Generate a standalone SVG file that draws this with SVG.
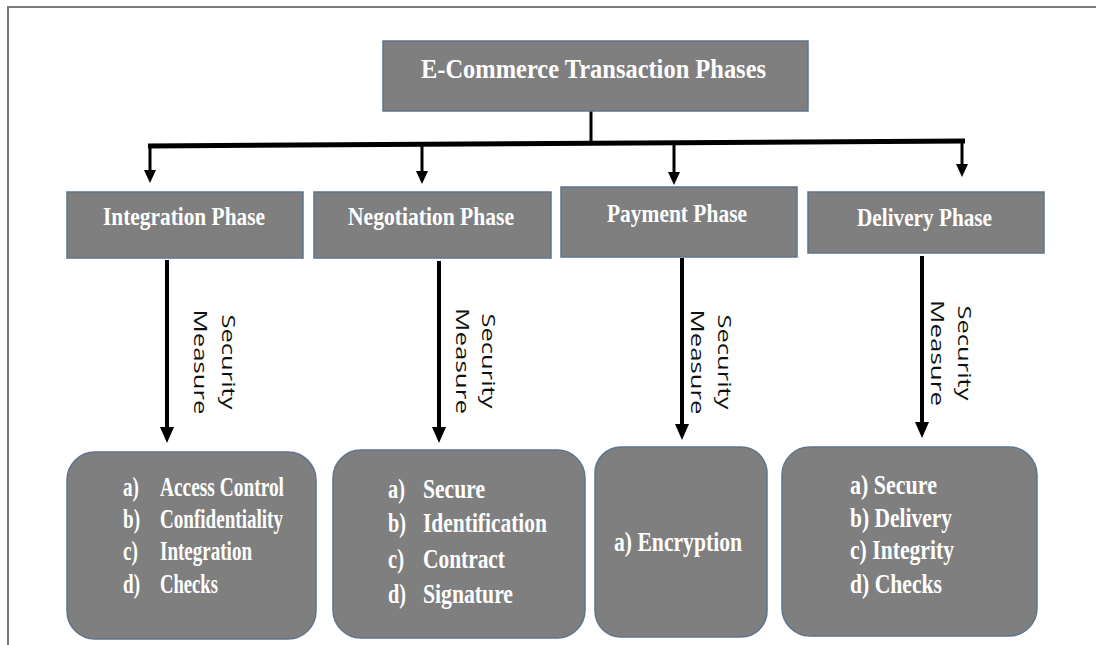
<svg xmlns="http://www.w3.org/2000/svg" width="1096" height="645" viewBox="0 0 1096 645">
  <style>
    .box { fill: #7f7f7f; stroke: #60748a; stroke-width: 1.5; }
    .lbl { font-family: "Liberation Serif", "Times New Roman", serif; font-weight: bold; font-size: 26px; fill: #ffffff; }
    .title { font-size: 27px; }
    .item { font-size: 27px; }
    .sm { font-family: "Open Sans", "DejaVu Sans", sans-serif; font-size: 19px; fill: #111111; text-anchor: middle; }
    .wire { fill: none; stroke: #000000; }
    .frame { fill: none; stroke: #7a7a7a; stroke-width: 2; }
  </style>
  <defs>
    <marker id="headBig" markerUnits="userSpaceOnUse" markerWidth="16" markerHeight="14" refX="4" refY="7" orient="auto">
      <path d="M0,0 L16,7 L0,14 z" fill="#000000"/>
    </marker>
    <marker id="headSmall" markerUnits="userSpaceOnUse" markerWidth="13" markerHeight="12" refX="3" refY="6" orient="auto">
      <path d="M0,0 L13,6 L0,12 z" fill="#000000"/>
    </marker>
  </defs>

  <rect width="1096" height="645" fill="#ffffff"/>
  <path class="frame" d="M8,645 V7 H1096"/>

  <!-- connectors -->
  <g id="connectors">
    <line class="wire" x1="591" y1="111" x2="591" y2="144" stroke-width="3"/>
    <line class="wire" x1="148" y1="146" x2="965" y2="141" stroke-width="5"/>
    <line class="wire" x1="150" y1="146" x2="150" y2="173" stroke-width="3" marker-end="url(#headSmall)"/>
    <line class="wire" x1="422" y1="144" x2="422" y2="174" stroke-width="3" marker-end="url(#headSmall)"/>
    <line class="wire" x1="674" y1="143" x2="674" y2="175" stroke-width="3" marker-end="url(#headSmall)"/>
    <line class="wire" x1="962" y1="141" x2="962" y2="167" stroke-width="3" marker-end="url(#headSmall)"/>

    <line class="wire" x1="167" y1="260" x2="167" y2="431" stroke-width="4" marker-end="url(#headBig)"/>
    <line class="wire" x1="439" y1="261" x2="439" y2="431" stroke-width="4" marker-end="url(#headBig)"/>
    <line class="wire" x1="682" y1="258" x2="682" y2="428" stroke-width="4" marker-end="url(#headBig)"/>
    <line class="wire" x1="922" y1="256" x2="922" y2="426" stroke-width="4" marker-end="url(#headBig)"/>

    <text class="sm" transform="translate(222,362) rotate(90)"><tspan x="0" y="0" textLength="95" lengthAdjust="spacingAndGlyphs">Security</tspan><tspan x="0" y="28" textLength="105" lengthAdjust="spacingAndGlyphs">Measure</tspan></text>
    <text class="sm" transform="translate(482,361) rotate(90)"><tspan x="0" y="0" textLength="95" lengthAdjust="spacingAndGlyphs">Security</tspan><tspan x="0" y="26" textLength="106" lengthAdjust="spacingAndGlyphs">Measure</tspan></text>
    <text class="sm" transform="translate(718,362) rotate(90)"><tspan x="0" y="0" textLength="95" lengthAdjust="spacingAndGlyphs">Security</tspan><tspan x="0" y="27" textLength="105" lengthAdjust="spacingAndGlyphs">Measure</tspan></text>
    <text class="sm" transform="translate(958,353) rotate(90)"><tspan x="0" y="0" textLength="95" lengthAdjust="spacingAndGlyphs">Security</tspan><tspan x="0" y="27" textLength="106" lengthAdjust="spacingAndGlyphs">Measure</tspan></text>
  </g>

  <!-- root -->
  <g id="root">
    <rect class="box" x="383" y="41" width="425" height="70"/>
    <text class="lbl title" x="421" y="78" textLength="345" lengthAdjust="spacingAndGlyphs">E-Commerce Transaction Phases</text>
  </g>

  <!-- phases -->
  <g id="integration">
    <rect class="box" x="67" y="192" width="236" height="66"/>
    <text class="lbl" x="103" y="225" textLength="162" lengthAdjust="spacingAndGlyphs">Integration Phase</text>
  </g>
  <g id="negotiation">
    <rect class="box" x="314" y="192" width="237" height="66"/>
    <text class="lbl" x="348" y="225" textLength="166" lengthAdjust="spacingAndGlyphs">Negotiation Phase</text>
  </g>
  <g id="payment">
    <rect class="box" x="561" y="187" width="236" height="70"/>
    <text class="lbl" x="607" y="222" textLength="140" lengthAdjust="spacingAndGlyphs">Payment Phase</text>
  </g>
  <g id="delivery">
    <rect class="box" x="808" y="192" width="236" height="61"/>
    <text class="lbl" x="857" y="226" textLength="135" lengthAdjust="spacingAndGlyphs">Delivery Phase</text>
  </g>

  <!-- security measures -->
  <g id="integration-measures">
    <rect class="box" x="67" y="452" width="249" height="187" rx="28" ry="28"/>
    <text class="lbl item" x="123" y="496" textLength="16" lengthAdjust="spacingAndGlyphs">a)</text>
    <text class="lbl item" x="160" y="496" textLength="124" lengthAdjust="spacingAndGlyphs">Access Control</text>
    <text class="lbl item" x="123" y="528" textLength="17" lengthAdjust="spacingAndGlyphs">b)</text>
    <text class="lbl item" x="160" y="528" textLength="123" lengthAdjust="spacingAndGlyphs">Confidentiality</text>
    <text class="lbl item" x="123" y="560" textLength="15" lengthAdjust="spacingAndGlyphs">c)</text>
    <text class="lbl item" x="160" y="560" textLength="92" lengthAdjust="spacingAndGlyphs">Integration</text>
    <text class="lbl item" x="123" y="593" textLength="17" lengthAdjust="spacingAndGlyphs">d)</text>
    <text class="lbl item" x="160" y="593" textLength="58" lengthAdjust="spacingAndGlyphs">Checks</text>
  </g>
  <g id="negotiation-measures">
    <rect class="box" x="333" y="450" width="252" height="188" rx="28" ry="28"/>
    <text class="lbl item" x="388" y="498" textLength="17" lengthAdjust="spacingAndGlyphs">a)</text>
    <text class="lbl item" x="423" y="498" textLength="62" lengthAdjust="spacingAndGlyphs">Secure</text>
    <text class="lbl item" x="388" y="532" textLength="18" lengthAdjust="spacingAndGlyphs">b)</text>
    <text class="lbl item" x="423" y="532" textLength="124" lengthAdjust="spacingAndGlyphs">Identification</text>
    <text class="lbl item" x="388" y="568" textLength="16" lengthAdjust="spacingAndGlyphs">c)</text>
    <text class="lbl item" x="423" y="568" textLength="82" lengthAdjust="spacingAndGlyphs">Contract</text>
    <text class="lbl item" x="388" y="603" textLength="18" lengthAdjust="spacingAndGlyphs">d)</text>
    <text class="lbl item" x="423" y="603" textLength="90" lengthAdjust="spacingAndGlyphs">Signature</text>
  </g>
  <g id="payment-measures">
    <rect class="box" x="595" y="447" width="172" height="190" rx="26" ry="26"/>
    <text class="lbl item" x="614" y="551" textLength="128" lengthAdjust="spacingAndGlyphs">a) Encryption</text>
  </g>
  <g id="delivery-measures">
    <rect class="box" x="782" y="447" width="255" height="189" rx="28" ry="28"/>
    <text class="lbl item" x="850" y="494" textLength="87" lengthAdjust="spacingAndGlyphs">a) Secure</text>
    <text class="lbl item" x="850" y="527" textLength="102" lengthAdjust="spacingAndGlyphs">b) Delivery</text>
    <text class="lbl item" x="850" y="559" textLength="104" lengthAdjust="spacingAndGlyphs">c) Integrity</text>
    <text class="lbl item" x="850" y="593" textLength="92" lengthAdjust="spacingAndGlyphs">d) Checks</text>
  </g>
</svg>
